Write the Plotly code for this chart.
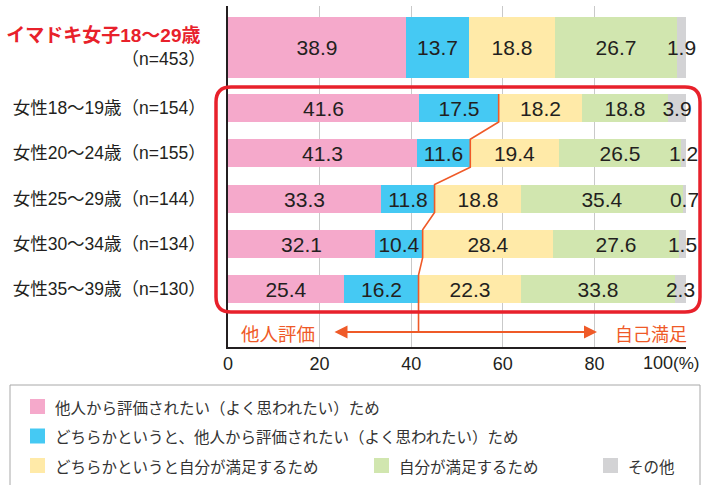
import plotly.graph_objects as go

# ---------------- data ----------------
row_labels = [
    "イマドキ女子18〜29歳",
    "女性18〜19歳（n=154）",
    "女性20〜24歳（n=155）",
    "女性25〜29歳（n=144）",
    "女性30〜34歳（n=134）",
    "女性35〜39歳（n=130）",
]
top_n_label = "（n=453）"

series_names = [
    "他人から評価されたい（よく思われたい）ため",
    "どちらかというと、他人から評価されたい（よく思われたい）ため",
    "どちらかというと自分が満足するため",
    "自分が満足するため",
    "その他",
]
s_other_eval = [38.9, 41.6, 41.3, 33.3, 32.1, 25.4]
s_maybe_other = [13.7, 17.5, 11.6, 11.8, 10.4, 16.2]
s_maybe_self = [18.8, 18.2, 19.4, 18.8, 28.4, 22.3]
s_self = [26.7, 18.8, 26.5, 35.4, 27.6, 33.8]
s_misc = [1.9, 3.9, 1.2, 0.7, 1.5, 2.3]
series_values = [s_other_eval, s_maybe_other, s_maybe_self, s_self, s_misc]

x_ticks = [0, 20, 40, 60, 80]
grid_ticks = [20, 40, 60, 80]

# ---------------- style / layout ----------------
colors = ["#F5A9CB", "#45C9F3", "#FFEAA8", "#D1E6AF", "#D3D3D5"]
RED = "#E8212B"
ORANGE = "#EF5A28"
DARK = "#231F20"
JP = "Noto Sans CJK JP"
NUM = "Liberation Sans, Arial"
MIX = "Liberation Sans, Noto Sans CJK JP"

W, H = 702, 485
ML, MR, MT, MB = 228, 16, 6, 138
plot_top, plot_bot = MT, H - MB
PXU = (W - ML - MR) / 100.0  # pixels per percent

# vertical placement (pixel-like y scale)
top_center, top_thick = 47.5, 61
first_center, step, thick = 108, 45.25, 28
positions = [top_center] + [first_center + step * i for i in range(len(row_labels) - 1)]
widths = [top_thick] + [thick] * (len(row_labels) - 1)


def px2x(px):
    return (px - ML) / (W - ML - MR)


def px2y(py):
    return (plot_bot - py) / (plot_bot - plot_top)


fig = go.Figure()

for name, vals, col in zip(series_names, series_values, colors):
    fig.add_trace(go.Bar(
        name=name, orientation="h", x=vals, y=positions, width=widths,
        marker=dict(color=col, line=dict(width=0)),
        text=[f"{v:.1f}" for v in vals], textposition="inside",
        insidetextanchor="middle", textangle=0, constraintext="none",
        cliponaxis=False,
        textfont=dict(family=NUM, size=21, color=DARK),
        showlegend=False, hoverinfo="skip",
    ))

# orange connecting line along (pink+blue) boundary of rows 2-6
arrow_y = 332
lx, ly = [], []
for i in range(1, len(row_labels)):
    b = s_other_eval[i] + s_maybe_other[i]
    lx += [b, b]
    ly += [positions[i] - widths[i] / 2, positions[i] + widths[i] / 2]
ly[-1] = arrow_y
fig.add_trace(go.Scatter(x=lx, y=ly, mode="lines",
                         line=dict(color=ORANGE, width=1.6),
                         showlegend=False, hoverinfo="skip"))

ticktext = [
    f"<span style='color:{RED};font-size:19px'><b>{row_labels[0]}&nbsp;</b></span><br>{top_n_label}"
] + row_labels[1:]

fig.update_layout(
    width=W, height=H,
    margin=dict(l=ML, r=MR, t=MT, b=MB, autoexpand=False),
    paper_bgcolor="white", plot_bgcolor="white",
    barmode="stack", bargap=0,
    xaxis=dict(
        range=[0, 100], tickvals=x_ticks, ticktext=[str(t) for t in x_ticks],
        showgrid=False, zeroline=False, showline=True, linecolor=DARK, linewidth=1.5,
        ticks="", ticklabelstandoff=0, automargin=False,
        tickfont=dict(family=NUM, size=18, color=DARK),
        minor=dict(tickmode="array", tickvals=grid_ticks, showgrid=True,
                   gridcolor="#C9C9C9", gridwidth=1, ticks=""),
        fixedrange=True,
    ),
    yaxis=dict(
        range=[plot_bot, plot_top], tickvals=positions, ticktext=ticktext,
        showgrid=False, zeroline=False, showline=True, linecolor=DARK, linewidth=1.5,
        ticks="", ticklabelstandoff=17, automargin=False,
        tickfont=dict(family=MIX, size=17.5, color=DARK),
        fixedrange=True,
    ),
    font=dict(family=JP, color=DARK),
)

annotations = []
# 100(%) label
annotations.append(dict(
    xref="x", yref="paper", x=100, y=px2y(363), xanchor="right", yanchor="middle",
    xshift=16, showarrow=False,
    text="100<span style='font-size:17px'>(%)</span>",
    font=dict(family=NUM, size=18, color=DARK),
))
# arrow
annotations.append(dict(
    xref="x", yref="y", axref="x", ayref="y",
    x=(597 - ML) / PXU, y=arrow_y, ax=(333 - ML) / PXU, ay=arrow_y,
    text="", showarrow=True, arrowside="end+start",
    arrowhead=2, startarrowhead=2, arrowsize=1.3, startarrowsize=1.3,
    arrowwidth=2, arrowcolor=ORANGE, standoff=0, startstandoff=0,
))
annotations.append(dict(
    xref="paper", yref="y", x=px2x(239), y=arrow_y + 1, xanchor="left", yanchor="middle",
    showarrow=False, text="他人評価", font=dict(family=JP, size=18.5, color=ORANGE),
))
annotations.append(dict(
    xref="paper", yref="y", x=px2x(689), y=arrow_y + 1, xanchor="right", yanchor="middle",
    showarrow=False, text="自己満足", font=dict(family=JP, size=18, color=ORANGE),
))

shapes = []
# red rounded rectangle around rows 2-6
x0, x1, y0, y1, r = 216, 700, 87, 312, 15
X = px2x
Y = px2y
path = (
    f"M{X(x0 + r)},{Y(y0)} L{X(x1 - r)},{Y(y0)} Q{X(x1)},{Y(y0)} {X(x1)},{Y(y0 + r)} "
    f"L{X(x1)},{Y(y1 - r)} Q{X(x1)},{Y(y1)} {X(x1 - r)},{Y(y1)} "
    f"L{X(x0 + r)},{Y(y1)} Q{X(x0)},{Y(y1)} {X(x0)},{Y(y1 - r)} "
    f"L{X(x0)},{Y(y0 + r)} Q{X(x0)},{Y(y0)} {X(x0 + r)},{Y(y0)} Z"
)
shapes.append(dict(type="path", xref="paper", yref="paper", path=path,
                   line=dict(color=RED, width=3.5), layer="above"))

# legend box
shapes.append(dict(type="rect", xref="paper", yref="paper",
                   x0=X(10), x1=X(700), y0=Y(385), y1=Y(492),
                   line=dict(color="#A8A8A8", width=1), fillcolor="rgba(0,0,0,0)"))

legend_pos = [(30, 406.5), (30, 436), (30, 465.5), (374, 465.5), (603, 465.5)]
for (sx, sy), name, col in zip(legend_pos, series_names, colors):
    shapes.append(dict(type="rect", xref="paper", yref="paper",
                       x0=X(sx), x1=X(sx + 15), y0=Y(sy - 7.5), y1=Y(sy + 7.5),
                       line=dict(width=0), fillcolor=col))
    annotations.append(dict(
        xref="paper", yref="paper", x=X(sx + 23), y=Y(sy), xanchor="left", yanchor="middle",
        showarrow=False, text=name, font=dict(family=JP, size=15.5, color="#333333"),
    ))

fig.update_layout(shapes=shapes, annotations=annotations)

fig.write_html("out.html", config={"displayModeBar": False},
               post_script="document.body.style.margin='0';document.body.style.overflow='hidden';")
